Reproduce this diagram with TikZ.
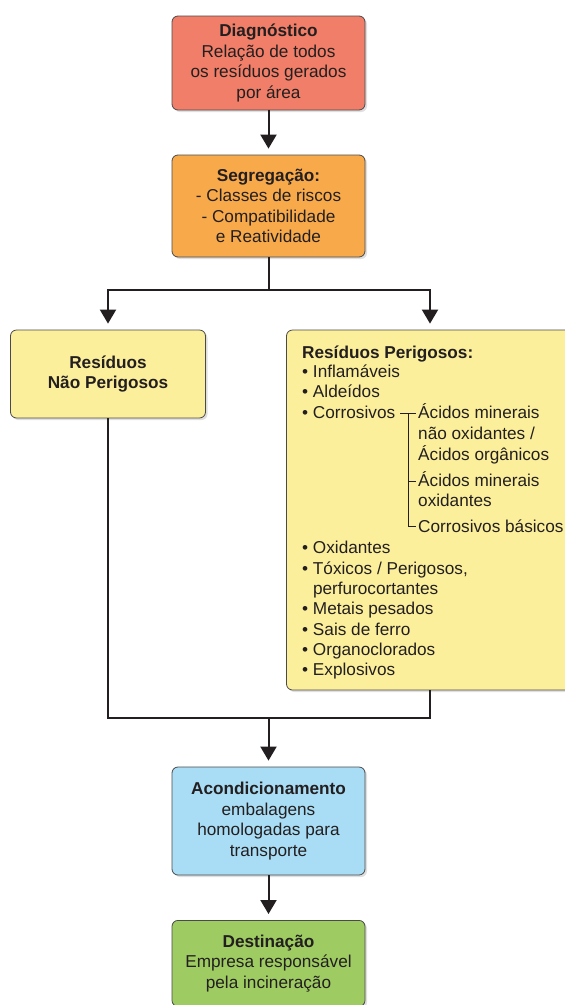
\documentclass[tikz,border=0pt]{standalone}
\usepackage{fontspec}
\setmainfont{Liberation Sans}
\usetikzlibrary{arrows.meta,shadows}
\definecolor{ink}{HTML}{231F20}
\definecolor{edge}{HTML}{4A4A4A}
\definecolor{cdiag}{HTML}{F07E68}
\definecolor{cseg}{HTML}{F8AA4B}
\definecolor{cyel}{HTML}{FCEF9B}
\definecolor{cblue}{HTML}{A9DDF5}
\definecolor{cgreen}{HTML}{9FCC62}
\tikzset{
  txt/.style={font=\fontsize{17.2}{20.5}\selectfont, text=ink},
  box/.style={txt, draw=edge, line width=0.8pt, rounded corners=6pt, align=center,
    inner sep=0pt, minimum width=193pt,
    drop shadow={opacity=0.25, shadow xshift=2pt, shadow yshift=-2pt}},
  lst/.style={txt, anchor=base west, inner sep=0pt},
  conn/.style={draw=ink, line width=2pt},
  arr/.style={conn, -{Triangle[width=16pt,length=14pt]}, shorten >=6pt},
  brk/.style={draw=ink, line width=0.9pt}
}
\begin{document}
\begin{tikzpicture}[x=1pt,y=-1pt]
\useasboundingbox (0,0) rectangle (565,1005);
\clip (0,0) rectangle (565,1005);
\fill[white] (0,0) rectangle (565,1005);

\node[box, fill=cdiag, minimum height=94pt] (diag) at (268.5,63)
  {\textbf{Diagnóstico}\\Relação de todos\\os resíduos gerados\\por área};
\node[box, fill=cseg, minimum height=102pt] (seg) at (268.5,206)
  {\textbf{Segregação:}\\- Classes de riscos\\- Compatibilidade\\e Reatividade};
\node[box, fill=cyel, minimum height=88pt, minimum width=195pt] (naoper) at (108,374)
  {\textbf{Resíduos}\\\textbf{Não Perigosos}};
\node[box, fill=cyel, minimum height=360pt, minimum width=287pt] (per) at (430,510) {};
\node[box, fill=cblue, minimum height=108pt] (acond) at (268.5,821)
  {\textbf{Acondicionamento}\\embalagens\\homologadas para\\transporte};
\node[box, fill=cgreen, minimum height=86pt, anchor=north] (dest) at (268.5,920)
  {\textbf{Destinação}\\Empresa responsável\\pela incineração};

% list inside Resíduos Perigosos
\node[lst] (ptitle) at (302,358) {\textbf{Resíduos Perigosos:}};
\node[lst] (i1) at (302,377) {• Inflamáveis};
\node[lst] (i2) at (302,397) {• Aldeídos};
\node[lst] (i3) at (302,418) {• Corrosivos};
\node[lst] (c1) at (418,418) {Ácidos minerais};
\node[lst] (c1b) at (418,439) {não oxidantes /};
\node[lst] (c1c) at (418,460) {Ácidos orgânicos};
\node[lst] (c2) at (418,486) {Ácidos minerais};
\node[lst] (c2b) at (418,506) {oxidantes};
\node[lst] (c3) at (418,532) {Corrosivos básicos};
\node[lst] (i4) at (302,553) {• Oxidantes};
\node[lst] (i5) at (302,574) {• Tóxicos / Perigosos,};
\node[lst] (i5b) at (302,594) {\phantom{• }perfurocortantes};
\node[lst] (i6) at (302,614) {• Metais pesados};
\node[lst] (i7) at (302,635) {• Sais de ferro};
\node[lst] (i8) at (302,655) {• Organoclorados};
\node[lst] (i9) at (302,675) {• Explosivos};

% bracket
\draw[brk] ([xshift=5pt,yshift=5pt]i3.base east) -- ([xshift=-2pt,yshift=5pt]c1.base west);
\draw[brk] ([xshift=-10pt,yshift=5pt]c1.base west) |- ([xshift=-2pt,yshift=6pt]c3.base west);
\draw[brk] ([xshift=-10pt,yshift=5pt]c2.base west) -- ([xshift=-2pt,yshift=5pt]c2.base west);

% connectors
\draw[arr] (diag) -- (seg);
\coordinate (split) at (268.5,290);
\draw[conn] (seg.south) -- (split);
\draw[arr] (split) -| (naoper.north);
\draw[arr] (split) -| (per.north);
\coordinate (join) at (268.5,718);
\draw[conn] (naoper.south) |- (join);
\draw[conn] (per.south) |- (join);
\draw[arr] (join) -- (acond.north);
\draw[arr] (acond) -- (dest);
\end{tikzpicture}
\end{document}
